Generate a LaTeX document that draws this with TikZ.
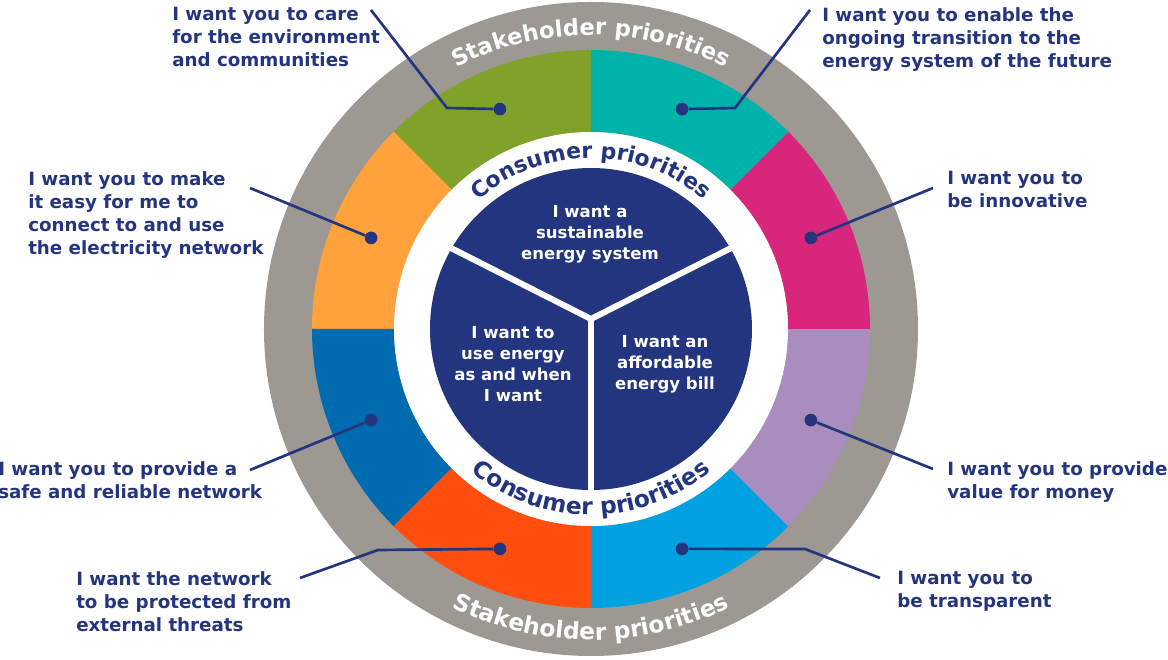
\documentclass[tikz,border=0pt]{standalone}
\usepackage{fontspec}
\setmainfont{DejaVu Sans}
\usepackage{tikz}
\usepackage{xcolor}
\usetikzlibrary{decorations.text}

\definecolor{navy}{HTML}{24357F}
\definecolor{ringgray}{HTML}{9D9892}
\definecolor{segGreen}{HTML}{80A22A}
\definecolor{segTeal}{HTML}{00B3AA}
\definecolor{segMagenta}{HTML}{D9267D}
\definecolor{segLilac}{HTML}{A98DBF}
\definecolor{segSky}{HTML}{00A1E1}
\definecolor{segRed}{HTML}{FF4E0E}
\definecolor{segBlue}{HTML}{006BAF}
\definecolor{segOrange}{HTML}{FFA23B}

\tikzset{dot/.style={circle,fill=navy,inner sep=0pt,minimum size=9.5pt}}

\begin{document}
\begin{tikzpicture}[x=0.75pt,y=0.75pt,
                    lead/.style={draw=navy,line width=2pt},
                    divider/.style={draw=white,line width=4.5pt},
                    wish/.style={anchor=north west,inner sep=0pt,align=left,text=navy,
                                 font=\fontsize{13.7}{17.25}\selectfont\bfseries},
                    core/.style={align=center,inner sep=0pt,text=white,
                                 font=\fontsize{12.4}{15.75}\selectfont\bfseries}]

  \useasboundingbox (-591,-331) rectangle (577,329);

  % rings
  \fill[ringgray] (0,0) circle[radius=327];
  \fill[segGreen] (90:197) arc[start angle=90,end angle=135,radius=197] -- (135:279) arc[start angle=135,end angle=90,radius=279] -- cycle;
  \fill[segOrange] (135:197) arc[start angle=135,end angle=180,radius=197] -- (180:279) arc[start angle=180,end angle=135,radius=279] -- cycle;
  \fill[segBlue] (180:197) arc[start angle=180,end angle=225,radius=197] -- (225:279) arc[start angle=225,end angle=180,radius=279] -- cycle;
  \fill[segRed] (225:197) arc[start angle=225,end angle=270,radius=197] -- (270:279) arc[start angle=270,end angle=225,radius=279] -- cycle;
  \fill[segSky] (270:197) arc[start angle=270,end angle=315,radius=197] -- (315:279) arc[start angle=315,end angle=270,radius=279] -- cycle;
  \fill[segLilac] (315:197) arc[start angle=315,end angle=360,radius=197] -- (360:279) arc[start angle=360,end angle=315,radius=279] -- cycle;
  \fill[segMagenta] (0:197) arc[start angle=0,end angle=45,radius=197] -- (45:279) arc[start angle=45,end angle=0,radius=279] -- cycle;
  \fill[segTeal] (45:197) arc[start angle=45,end angle=90,radius=197] -- (90:279) arc[start angle=90,end angle=45,radius=279] -- cycle;
  \fill[white] (0,0) circle[radius=197];
  \fill[navy] (0,0) circle[radius=161];

  % three consumer sectors
  \coordinate (hub) at (0,10);
  \draw[divider] (hub) -- (150:164);
  \draw[divider] (hub) -- (30:164);
  \draw[divider] (hub) -- (270:164);

  \node[core] (sustain) at (-1,95) {I want a\\sustainable\\energy system};
  \node[core] (use) at (-78,-35) {I want to\\use energy\\as and when\\I want};
  \node[core] (bill) at (74,-35) {I want an\\affordable\\energy bill};

  % curved titles
  \path[decorate,decoration={text along path,text align=center,text color=white,
        text={|\fontsize{17}{20}\selectfont\bfseries|Stakeholder priorities}}]
    (150:294) arc[start angle=150,end angle=30,radius=294];
  \path[decorate,decoration={text along path,text align=center,text color=white,
        text={|\fontsize{17.5}{20}\selectfont\bfseries|Stakeholder priorities}}]
    (205:311) arc[start angle=205,end angle=335,radius=311];
  \path[decorate,decoration={text along path,text align=center,text color=navy,
        text={|\fontsize{16.5}{20}\selectfont\bfseries|Consumer priorities}}]
    (160:171) arc[start angle=160,end angle=20,radius=171];
  \path[decorate,decoration={text along path,text align=center,text color=navy,
        text={|\fontsize{17.5}{20}\selectfont\bfseries|Consumer priorities}}]
    (200:186) arc[start angle=200,end angle=340,radius=186];

  % stakeholder dots
  \node[dot] (green) at (112.5:238) {};
  \node[dot] (teal) at (67.5:238) {};
  \node[dot] (orange) at (157.5:238) {};
  \node[dot] (magenta) at (22.5:238) {};
  \node[dot] (blue) at (202.5:238) {};
  \node[dot] (lilac) at (337.5:238) {};
  \node[dot] (red) at (247.5:238) {};
  \node[dot] (sky) at (292.5:238) {};

  \coordinate (greenbend) at (-144,221);
  \coordinate (greenend) at (-220,319);
  \coordinate (tealbend) at (144,221);
  \coordinate (tealend) at (219,319);
  \coordinate (orangeend) at (-341,141);
  \coordinate (magentaend) at (342,141);
  \coordinate (blueend) at (-341,-141);
  \coordinate (lilacend) at (342,-140);
  \coordinate (redbend) at (-213,-221);
  \coordinate (redend) at (-291,-249);
  \coordinate (skybend) at (214,-220);
  \coordinate (skyend) at (289,-249);

  \draw[lead] (green) -- (greenbend) -- (greenend);
  \draw[lead] (teal) -- (tealbend) -- (tealend);
  \draw[lead] (orange) -- (orangeend);
  \draw[lead] (magenta) -- (magentaend);
  \draw[lead] (blue) -- (blueend);
  \draw[lead] (lilac) -- (lilacend);
  \draw[lead] (red) -- (redbend) -- (redend);
  \draw[lead] (sky) -- (skybend) -- (skyend);

  % stakeholder wishes
  \node[wish] (greenwish) at (-419,322) {I want you to care\\for the environment\\and communities};
  \node[wish] (tealwish) at (231,322) {I want you to enable the\\ongoing transition to the\\energy system of the future};
  \node[wish] (orangewish) at (-563,158) {I want you to make\\it easy for me to\\connect to and use\\the electricity network};
  \node[wish] (magentawish) at (356,158) {I want you to\\be innovative};
  \node[wish] (bluewish) at (-593,-132) {I want you to provide a\\safe and reliable network};
  \node[wish] (lilacwish) at (356,-132) {I want you to provide\\value for money};
  \node[wish] (redwish) at (-515,-242) {I want the network\\to be protected from\\external threats};
  \node[wish] (skywish) at (306,-242) {I want you to\\be transparent};

\end{tikzpicture}
\end{document}
